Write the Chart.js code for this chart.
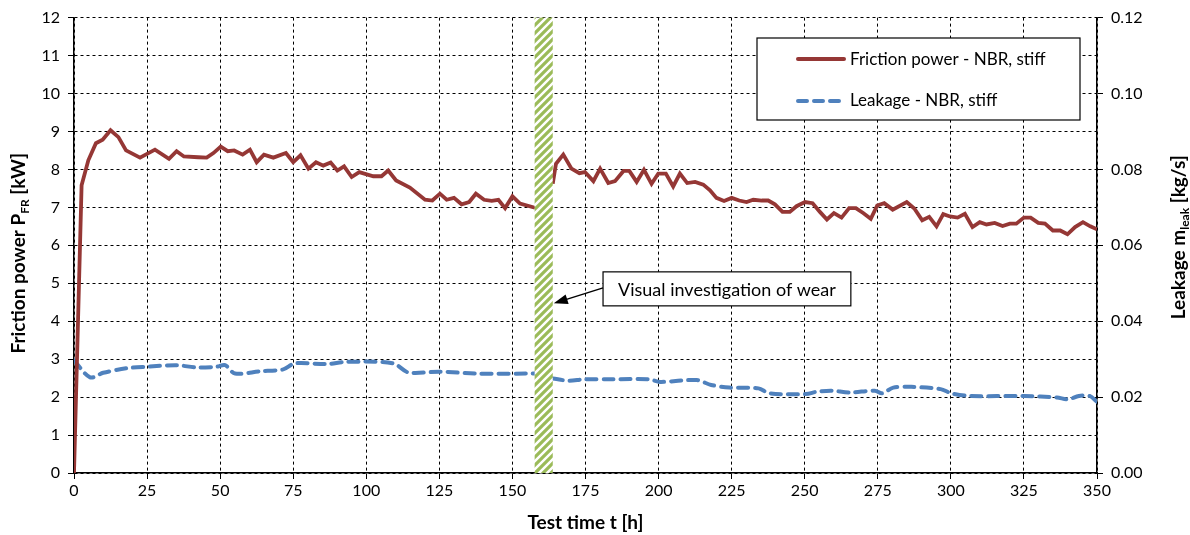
<!DOCTYPE html>
<html>
<head>
<meta charset="utf-8">
<script src="https://cdn.jsdelivr.net/npm/chart.js@4"></script>
<style>
  body { margin: 0; background: #fff; }
  canvas { display: block; }
</style>
</head>
<body>
<canvas id="chart" width="1190" height="535"></canvas>
<script>
// Friction power [kW] over test time [h]; null marks the stop for the wear check
const frictionTime = [0, 2.6, 4.9, 7.5, 9.8, 12.5, 15.2, 17.8, 22.6, 27.7, 32.5, 35.1, 37.6, 42.5, 45.4, 47.7,
  50.2, 52.6, 54.8, 57.7, 60.2, 62.5, 65, 68.2, 72.5, 75, 77.5, 80.2, 82.8, 85.3, 87.8, 90.1, 92.4, 95, 97.6,
  102.4, 105.2, 107.5, 110.2, 114.9, 120.1, 122.6, 125.2, 127.5, 130, 132.6, 135.2, 137.5, 140.3, 142.9,
  145.2, 147.5, 150, 152.6, 157.7, 160, 163.8, 164.9, 167.4, 170.2, 172.9, 174.8, 177.7, 180, 182.8, 185.1,
  188, 190, 192.5, 195, 197.6, 199.9, 202.5, 205, 207.3, 209.8, 212.5, 215.3, 217.6, 219.8, 222.4, 225,
  227.6, 230.1, 232.4, 235.3, 237.5, 239.8, 242.4, 244.9, 247.2, 250.1, 252.7, 255.2, 257.6, 260, 262.6,
  265.2, 267.5, 270, 272.6, 274.8, 277.2, 280.1, 284.9, 287.5, 290.2, 292.6, 295.1, 297.4, 299.7, 302.3,
  304.8, 307.4, 309.9, 312.2, 315, 317.7, 320.2, 322.4, 325, 327.3, 329.9, 332.2, 334.9, 337.4, 339.9,
  342.5, 345.2, 347.7, 350];
const frictionPower = [0, 7.58, 8.24, 8.69, 8.78, 9.03, 8.85, 8.5, 8.31, 8.52, 8.28, 8.48, 8.34, 8.32, 8.31, 8.43,
  8.6, 8.48, 8.5, 8.39, 8.52, 8.19, 8.39, 8.31, 8.43, 8.19, 8.37, 8.02, 8.19, 8.1, 8.18, 7.97, 8.08, 7.8, 7.93,
  7.82, 7.82, 7.97, 7.71, 7.52, 7.2, 7.18, 7.36, 7.2, 7.25, 7.08, 7.14, 7.36, 7.2, 7.17,
  7.2, 6.98, 7.29, 7.1, 6.99, null, 7.62, 8.15, 8.39, 8.02, 7.9, 7.93, 7.69, 8.02, 7.64, 7.69,
  7.96, 7.96, 7.67, 7.99, 7.62, 7.89, 7.89, 7.55, 7.89, 7.64, 7.67, 7.6, 7.45, 7.25, 7.17, 7.25,
  7.18, 7.14, 7.2, 7.18, 7.18, 7.08, 6.88, 6.88, 7.03, 7.14, 7.11, 6.88, 6.68, 6.85, 6.73,
  6.98, 6.98, 6.85, 6.7, 7.05, 7.11, 6.94, 7.14, 6.97, 6.66, 6.75, 6.5, 6.82, 6.76, 6.73,
  6.83, 6.48, 6.61, 6.55, 6.59, 6.51, 6.57, 6.57, 6.73, 6.73, 6.59, 6.57, 6.39, 6.39, 6.29,
  6.48, 6.61, 6.5, 6.42];

// Leakage [kg/s] over test time [h]
const leakageTime = [0, 5.5, 10, 18, 24.9, 35.1, 42, 48.8, 51.7, 55.1, 63.6, 71.6, 75.6, 86.5, 93.3, 109.2,
  114.4, 125.2, 137.7, 157.5, 160, 163.8, 169.4, 174.4, 184.3, 196.8, 200.5, 213, 218, 224.2, 234.2, 237.9,
  250.4, 254.1, 259.1, 265.3, 274, 276.5, 280.3, 286.5, 296.5, 300.2, 306.4, 325.1, 336.3, 340.1, 343.8,
  347.5, 350];
const leakage = [0.0297, 0.0252, 0.0264, 0.0276, 0.028, 0.0284, 0.0278, 0.028, 0.0284, 0.0262, 0.0268, 0.0273,
  0.0289, 0.0287, 0.0293, 0.0289, 0.0265, 0.0267, 0.0262, 0.0262, null, 0.0249, 0.0243, 0.0247, 0.0247,
  0.0247, 0.024, 0.0245, 0.0232, 0.0225, 0.0223, 0.021, 0.0208, 0.0214, 0.0217, 0.0212, 0.0217, 0.021,
  0.0225, 0.0227, 0.0221, 0.021, 0.0203, 0.0203, 0.0199, 0.0194, 0.0203, 0.0203, 0.0188];

// wear inspection stop [h]
const wearCheck = [157.6, 163.8];
const seriesNames = ["Friction power - NBR, stiff", "Leakage - NBR, stiff"];
const noteText = "Visual investigation of wear";

const RED = "#953735";
const BLUE = "#4F81BD";
const GREEN = "#9BBB59";
const FONT = "Lato, 'Open Sans', sans-serif";

function toPoints(xs, ys) {
  return xs.map((x, i) => ({ x: x, y: ys[i] }));
}

function hatchPattern(ctx) {
  const c = document.createElement("canvas");
  c.width = 8;
  c.height = 8;
  const p = c.getContext("2d");
  p.fillStyle = "#fff";
  p.fillRect(0, 0, 8, 8);
  p.strokeStyle = GREEN;
  p.lineWidth = 3.2;
  p.beginPath();
  p.moveTo(-2, 10); p.lineTo(10, -2);
  p.moveTo(-6, 6); p.lineTo(6, -6);
  p.moveTo(2, 14); p.lineTo(14, 2);
  p.stroke();
  return ctx.createPattern(c, "repeat");
}

// stripes for the wear stop, drawn over the lines
const wearBar = {
  id: "wearBar",
  afterDatasetsDraw(chart) {
    const { ctx, chartArea, scales } = chart;
    const x0 = scales.x.getPixelForValue(wearCheck[0]);
    const x1 = scales.x.getPixelForValue(wearCheck[1]);
    ctx.save();
    ctx.fillStyle = hatchPattern(ctx);
    ctx.fillRect(x0, chartArea.top, x1 - x0, chartArea.bottom - chartArea.top);
    ctx.restore();
  },
};

const extras = {
  id: "extras",
  afterDraw(chart) {
    const { ctx, chartArea, scales } = chart;
    ctx.save();

    // note box with arrow
    ctx.font = "18px " + FONT;
    const bx = scales.x.getPixelForValue(181);
    const by = scales.y.getPixelForValue(5.3);
    const bw = ctx.measureText(noteText).width + 30;
    const bh = 34;
    ctx.fillStyle = "#fff";
    ctx.fillRect(bx, by, bw, bh);
    ctx.strokeStyle = "#000";
    ctx.lineWidth = 1.2;
    ctx.strokeRect(bx, by, bw, bh);
    ctx.fillStyle = "#000";
    ctx.textBaseline = "middle";
    ctx.textAlign = "center";
    ctx.fillText(noteText, bx + bw / 2, by + bh / 2 + 1);

    const tx = scales.x.getPixelForValue(wearCheck[1]) + 1;
    const ty = scales.y.getPixelForValue(4.47);
    const sx = bx, sy = by + 16;
    const ang = Math.atan2(ty - sy, tx - sx);
    ctx.lineWidth = 1.5;
    ctx.beginPath();
    ctx.moveTo(sx, sy);
    ctx.lineTo(tx - 10 * Math.cos(ang), ty - 10 * Math.sin(ang));
    ctx.stroke();
    ctx.beginPath();
    ctx.moveTo(tx, ty);
    ctx.lineTo(tx - 14 * Math.cos(ang) + 5 * Math.sin(ang), ty - 14 * Math.sin(ang) - 5 * Math.cos(ang));
    ctx.lineTo(tx - 14 * Math.cos(ang) - 5 * Math.sin(ang), ty - 14 * Math.sin(ang) + 5 * Math.cos(ang));
    ctx.closePath();
    ctx.fill();

    // legend
    const lx = 757, ly = 38, lw = 323, lh = 82;
    ctx.fillStyle = "#fff";
    ctx.fillRect(lx, ly, lw, lh);
    ctx.lineWidth = 1.2;
    ctx.strokeRect(lx, ly, lw, lh);
    ctx.lineCap = "round";
    ctx.strokeStyle = RED;
    ctx.lineWidth = 4;
    ctx.beginPath(); ctx.moveTo(798, 59); ctx.lineTo(844, 59); ctx.stroke();
    ctx.strokeStyle = BLUE;
    ctx.setLineDash([9, 7]);
    ctx.beginPath(); ctx.moveTo(798, 101); ctx.lineTo(844, 101); ctx.stroke();
    ctx.setLineDash([]);
    ctx.fillStyle = "#000";
    ctx.textAlign = "left";
    ctx.font = "17px " + FONT;
    ctx.fillText(seriesNames[0], 850, 60);
    ctx.fillText(seriesNames[1], 850, 101);

    // axis titles
    ctx.font = "bold 19px " + FONT;
    ctx.textAlign = "center";
    ctx.textBaseline = "alphabetic";
    ctx.fillText("Test time t [h]", (chartArea.left + chartArea.right) / 2, 529);

    drawRotated(ctx, 25, (chartArea.top + chartArea.bottom) / 2 + 8, [
      ["Friction power P", false], ["FR", true], [" [kW]", false],
    ]);
    drawRotated(ctx, 1185, (chartArea.top + chartArea.bottom) / 2 - 8, [
      ["Leakage m", false], ["leak", true], [" [kg/s]", false],
    ]);
    ctx.restore();
  },
};

function drawRotated(ctx, cx, cy, parts) {
  const big = "bold 19px " + FONT;
  const small = "bold 12px " + FONT;
  let total = 0;
  parts.forEach(([t, sub]) => {
    ctx.font = sub ? small : big;
    total += ctx.measureText(t).width;
  });
  ctx.save();
  ctx.translate(cx, cy);
  ctx.rotate(-Math.PI / 2);
  ctx.textAlign = "left";
  ctx.textBaseline = "alphabetic";
  let x = -total / 2;
  parts.forEach(([t, sub]) => {
    ctx.font = sub ? small : big;
    ctx.fillText(t, x, sub ? 4 : 0);
    x += ctx.measureText(t).width;
  });
  ctx.restore();
}

const gridDash = { color: "#000", lineWidth: 1, tickColor: "#000", tickLength: 6, tickBorderDash: [] };

new Chart(document.getElementById("chart").getContext("2d"), {
  type: "line",
  data: {
    datasets: [
      {
        label: seriesNames[0],
        data: toPoints(frictionTime, frictionPower),
        yAxisID: "y",
        borderColor: RED,
        borderWidth: 3.8,
        pointRadius: 0,
        tension: 0,
        spanGaps: false,
      },
      {
        label: seriesNames[1],
        data: toPoints(leakageTime, leakage),
        yAxisID: "y2",
        borderColor: BLUE,
        borderWidth: 4,
        borderDash: [10, 7],
        borderCapStyle: "round",
        pointRadius: 0,
        tension: 0.3,
        spanGaps: false,
      },
    ],
  },
  options: {
    responsive: false,
    animation: false,
    layout: { padding: { top: 17, left: 0, right: 0, bottom: 0 } },
    plugins: { legend: { display: false }, tooltip: { enabled: false } },
    scales: {
      x: {
        type: "linear",
        min: 0,
        max: 350,
        afterFit(s) { s.height = 62; },
        ticks: { stepSize: 25, color: "#000", font: { family: FONT, size: 16 }, padding: 2, maxRotation: 0 },
        grid: gridDash,
        border: { display: true, color: "#000", width: 1.5, dash: [3, 3] },
      },
      y: {
        position: "left",
        min: 0,
        max: 12,
        afterFit(s) { s.width = 74; },
        ticks: { stepSize: 1, color: "#000", font: { family: FONT, size: 16 }, padding: 8 },
        grid: gridDash,
        border: { display: true, color: "#000", width: 1.5, dash: [3, 3] },
      },
      y2: {
        position: "right",
        min: 0,
        max: 0.12,
        afterFit(s) { s.width = 93; },
        ticks: {
          stepSize: 0.02,
          color: "#000",
          font: { family: FONT, size: 16 },
          padding: 8,
          callback: (v) => v.toFixed(2),
        },
        grid: { drawOnChartArea: false, tickColor: "#000", tickLength: 6 },
        border: { display: true, color: "#000", width: 1.5 },
      },
    },
  },
  plugins: [wearBar, extras],
});
</script>
</body>
</html>
